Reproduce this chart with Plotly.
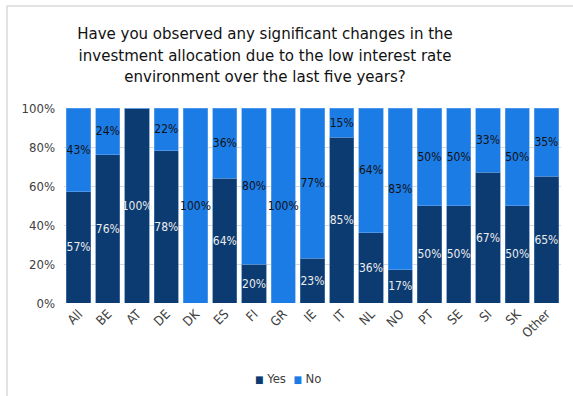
import plotly.graph_objects as go

categories = ["All", "BE", "AT", "DE", "DK", "ES", "FI", "GR", "IE", "IT",
              "NL", "NO", "PT", "SE", "SI", "SK", "Other"]
yes_values = [57, 76, 100, 78, 0, 64, 20, 0, 23, 85, 36, 17, 50, 50, 67, 50, 65]
no_values = [43, 24, 0, 22, 100, 36, 80, 100, 77, 15, 64, 83, 50, 50, 33, 50, 35]
series_names = ["Yes", "No"]
series_colors = ["#0C3B71", "#1C7CE6"]

FONT = "DejaVu Sans Condensed, Liberation Sans Narrow, DejaVu Sans, sans-serif"
W, H = 573, 396
ML, MR, MT, MB = 64, 12, 108, 93
PW, PH = W - ML - MR, H - MT - MB


def labels(vals):
    return [f"{v}%" if v else "" for v in vals]


fig = go.Figure()
fig.add_trace(go.Bar(
    x=categories, y=yes_values, name=series_names[0],
    marker=dict(color=series_colors[0], line=dict(color="#4F7FB8", width=0.6)),
    text=labels(yes_values), textposition="inside", insidetextanchor="middle",
    textangle=0, textfont=dict(color="#EDEDED", size=12, family=FONT),
    hoverinfo="skip", showlegend=False,
))
fig.add_trace(go.Bar(
    x=categories, y=no_values, name=series_names[1],
    marker=dict(color=series_colors[1], line=dict(color="#6AA8EE", width=0.6)),
    text=labels(no_values), textposition="inside", insidetextanchor="middle",
    textangle=0, textfont=dict(color="#111111", size=12, family=FONT),
    hoverinfo="skip", showlegend=False,
))

legend_text = "  ".join(
    f"<span style='color:{c};font-size:10px'>■</span> {n}"
    for n, c in zip(series_names, series_colors)
)

fig.update_layout(
    width=W, height=H,
    barmode="stack", bargap=0.17,
    margin=dict(l=ML, r=MR, t=MT, b=MB),
    paper_bgcolor="white", plot_bgcolor="white",
    font=dict(family=FONT, color="#404040"),
    uniformtext=dict(minsize=12, mode="show"),
    showlegend=False,
    title=dict(
        text="Have you observed any significant changes in the<br>"
             "investment allocation due to the low interest rate<br>"
             "environment over the last five years?",
        font=dict(size=16.7, color="#111111", family=FONT),
        x=265 / W, xref="container", xanchor="center",
        y=1 - 39 / H, yref="container", yanchor="top",
    ),
    annotations=[dict(
        text=legend_text, xref="paper", yref="paper",
        x=(288 - ML) / PW, y=(MT + PH - 378) / PH,
        xanchor="center", yanchor="middle", showarrow=False,
        font=dict(size=13, color="#404040", family=FONT),
    )],
    xaxis=dict(
        tickangle=-45, tickfont=dict(size=13, color="#404040", family=FONT),
        showgrid=False, showline=False, ticks="", automargin=False,
    ),
    yaxis=dict(
        range=[0, 100], dtick=20, ticksuffix="%",
        tickfont=dict(size=13, color="#404040", family=FONT),
        showgrid=True, gridcolor="#D9D9D9", gridwidth=1,
        zeroline=False, showline=False, ticklabelstandoff=8,
        automargin=False,
    ),
    shapes=[dict(
        type="rect", xref="paper", yref="paper",
        x0=(7 - ML) / PW, x1=(W + 20 - ML) / PW,
        y0=(MT + PH - (H + 20)) / PH, y1=(MT + PH - 6) / PH,
        line=dict(color="#D9D9D9", width=1.5), fillcolor="rgba(0,0,0,0)",
        layer="above",
    )],
)

fig.write_html(
    "out.html",
    config={"displayModeBar": False},
    post_script="document.body.style.margin='0';document.body.style.padding='0';",
)
